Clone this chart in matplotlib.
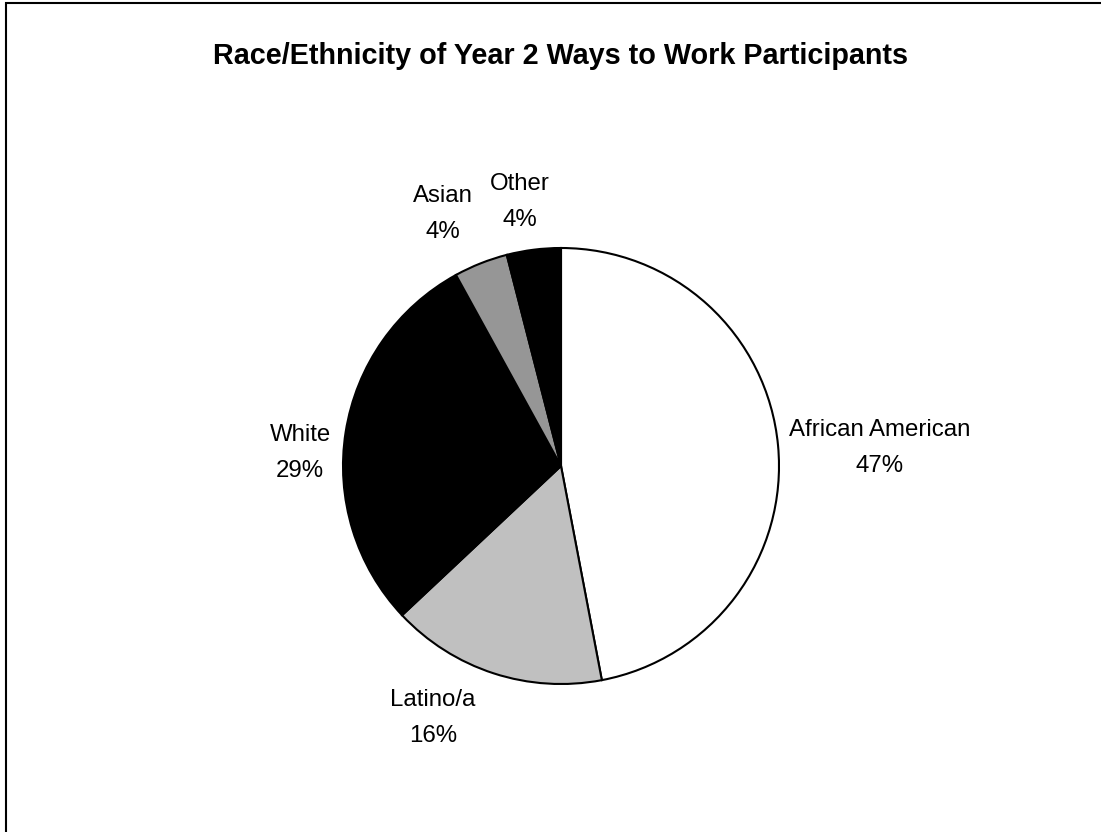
import numpy as np
import matplotlib.pyplot as plt
from matplotlib.patches import Rectangle

plt.rcParams['font.family'] = ['Liberation Sans', 'DejaVu Sans']

# race / ethnicity shares, in the order drawn (clockwise from 12 o'clock)
groups = ['African American', 'Latino/a', 'White', 'Asian', 'Other']
shares = [47, 16, 29, 4, 4]
colors = ['white', '#c0c0c0', 'black', '#969696', 'black']

# label centres in pie-radius units
label_xy = [(1.463, 0.083), (-0.587, -1.156), (-1.197, 0.06),
            (-0.541, 1.156), (-0.188, 1.211)]

fig = plt.figure(figsize=(11.01, 8.32), dpi=100)

# chart frame (only the top and left edges fall inside the image)
fig.patches.append(Rectangle((6 / 1101, -0.1), 1.2, 0.1 + (832 - 3) / 832,
                             transform=fig.transFigure, fill=False,
                             edgecolor='black', linewidth=1.5))

cx, cy, r = 561, 466, 218
ax = fig.add_axes([(cx - r) / 1101, (832 - cy - r) / 832, 2 * r / 1101, 2 * r / 832])

wedges, _ = ax.pie(shares, colors=colors, startangle=90, counterclock=False,
                   wedgeprops=dict(edgecolor='black', linewidth=1.5))
ax.set_xlim(-1, 1)
ax.set_ylim(-1, 1)
ax.set_aspect('equal')

for name, val, (x, y) in zip(groups, shares, label_xy):
    ax.text(x, y, f'{name}\n{val}%', ha='center', va='center',
            fontsize=17.3, linespacing=1.8)

fig.text(560.5 / 1101, 1 - 56 / 832, 'Race/Ethnicity of Year 2 Ways to Work Participants',
         ha='center', va='center', fontsize=20.7, fontweight='bold')

fig.savefig('out.png', dpi=100)
